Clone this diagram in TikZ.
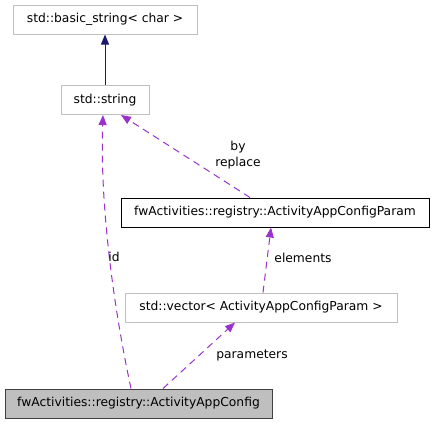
\documentclass[tikz,border=0pt]{standalone}
\usepackage{fontspec}
\setmainfont{DejaVu Sans}
\usetikzlibrary{arrows.meta}
\definecolor{edgepurple}{HTML}{9A32CD}
\definecolor{edgenavy}{HTML}{191970}
\definecolor{boxgray}{HTML}{BFBFBF}
\definecolor{boxdark}{HTML}{404040}
\begin{document}
\begin{tikzpicture}[x=1pt, y=-1pt, line width=1pt,
    every node/.style={font=\fontsize{12.3}{16.5}\selectfont, inner sep=0pt},
    classbox/.style={draw=boxgray, fill=white, minimum height=29pt},
    usage/.style={edgepurple, dash pattern=on 7pt off 5pt, -{Triangle[length=10pt,width=8pt]}},
    inherit/.style={edgenavy, -{Triangle[length=10pt,width=8pt]}}]
    \useasboundingbox (0,0) rectangle (433,424);

    % 类框
    \node[classbox, minimum width=184pt] (basic) at (105,19.5) {std::basic\_string< char >};
    \node[classbox, minimum width=88pt] (str) at (105,100) {std::string};
    \node[classbox, draw=black, minimum width=308pt] (param) at (275,212.5) {fwActivities::registry::ActivityAppConfigParam};
    \node[classbox, minimum width=272pt] (vec) at (261,307.5) {std::vector< ActivityAppConfigParam >};
    \node[classbox, draw=boxdark, fill=boxgray, minimum width=267pt] (cfg) at (138.5,403.5) {fwActivities::registry::ActivityAppConfig};

    % 继承
    \draw[inherit] (str.north) -- (basic.south);

    % 成员关系
    \draw[usage] ([xshift=-7.5pt]cfg.north) .. controls (112,300) and (100,200) .. ([xshift=-2pt]str.south);
    \draw[usage] ([xshift=-25pt]param.north) -- ([xshift=16pt]str.south);
    \draw[usage] ([xshift=2pt]vec.north) -- ([xshift=-4pt]param.south);
    \draw[usage] ([xshift=24.5pt]cfg.north) -- ([xshift=-26pt]vec.south);

    % 标注
    \node (lid) at (114,257) {id};
    \node[align=center] (lby) at (238,155) {by\\replace};
    \node (lel) at (303,258) {elements};
    \node (lpar) at (252,355) {parameters};
\end{tikzpicture}
\end{document}
